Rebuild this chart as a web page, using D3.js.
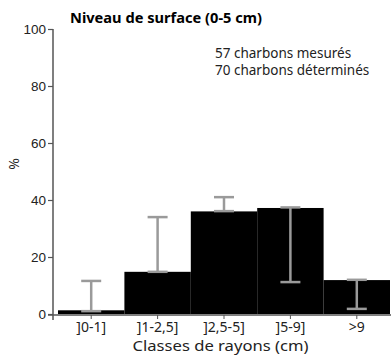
<!DOCTYPE html>
<html><head><meta charset="utf-8">
<script src="https://cdn.jsdelivr.net/npm/d3@7"></script>
<style>body{margin:0;background:#fff}svg{display:block}</style>
</head><body>
<svg id="c" width="391" height="355"></svg>
<script>
const categories = ["]0-1]", "]1-2,5]", "]2,5-5]", "]5-9]", ">9"];
const values = [1.3, 14.8, 36.0, 37.2, 11.9];
const errLow = [1.0, 14.8, 36.1, 11.2, 1.8];
const errHigh = [11.6, 34.0, 41.0, 37.4, 12.0];
const yTicks = [0, 20, 40, 60, 80, 100];
const title = "Niveau de surface (0-5 cm)";
const notes = ["57 charbons mesurés", "70 charbons déterminés"];

const svg = d3.select("#c");
const x = d3.scaleBand().domain(categories).range([58, 390]).padding(0);
const y = d3.scaleLinear().domain([0, 100]).range([314, 29]);

const SANS = "Noto Sans, sans-serif";
const ARIAL = "Liberation Sans, Arial, sans-serif";

svg.selectAll("rect.bar").data(values).join("rect").attr("class","bar")
  .attr("x", (d,i)=>x(categories[i])).attr("width", x.bandwidth())
  .attr("y", d=>y(d)).attr("height", d=>y(0)-y(d)).attr("fill", "#000");

const eg = svg.append("g").attr("stroke", "#9a9a9a").attr("stroke-width", 2.5).attr("fill","none");
categories.forEach((c,i)=>{
  const cx = x(c) + x.bandwidth()/2;
  eg.append("line").attr("x1",cx).attr("x2",cx).attr("y1",y(errLow[i])).attr("y2",y(errHigh[i]));
  eg.append("line").attr("x1",cx-10).attr("x2",cx+10).attr("y1",y(errLow[i])).attr("y2",y(errLow[i]));
  eg.append("line").attr("x1",cx-10).attr("x2",cx+10).attr("y1",y(errHigh[i])).attr("y2",y(errHigh[i]));
});

// y axis
const ya = svg.append("g").attr("transform","translate(53,0)")
  .call(d3.axisLeft(y).tickValues(yTicks).tickSize(5).tickPadding(2));
ya.select(".domain").attr("d","M0,29V320").attr("stroke","#555").attr("stroke-width",1.5);
ya.selectAll(".tick line").attr("stroke","#555").attr("stroke-width",1.2);
ya.selectAll(".tick text").attr("font-family",ARIAL).attr("font-size",13.5).attr("fill","#222");

// x axis
const xa = svg.append("g").attr("transform","translate(0,315)")
  .call(d3.axisBottom(x).tickSize(4).tickPadding(3));
xa.select(".domain").attr("d","M48,0H391").attr("stroke","#555").attr("stroke-width",1.5);
xa.selectAll(".tick line").attr("stroke","#555");
xa.selectAll(".tick text").attr("font-family",SANS).attr("font-size",14).attr("fill","#222");

svg.append("text").attr("x",220.5).attr("y",351).attr("text-anchor","middle")
  .attr("font-family",SANS).attr("font-size",14).attr("fill","#222")
  .attr("textLength",176).attr("lengthAdjust","spacingAndGlyphs")
  .text("Classes de rayons (cm)");
svg.append("text").attr("transform","translate(19,164) rotate(-90)").attr("text-anchor","middle")
  .attr("font-family",SANS).attr("font-size",14).attr("fill","#222").text("%");
svg.append("text").attr("x",70).attr("y",23).attr("font-family",SANS)
  .attr("font-weight","bold").attr("font-size",14).attr("fill","#000")
  .attr("textLength",192).attr("lengthAdjust","spacingAndGlyphs").text(title);
notes.forEach((t,i)=>svg.append("text").attr("x",215).attr("y",58+i*17)
  .attr("font-family",SANS).attr("font-size",13.5).attr("fill","#222").text(t));
</script>
</body></html>
